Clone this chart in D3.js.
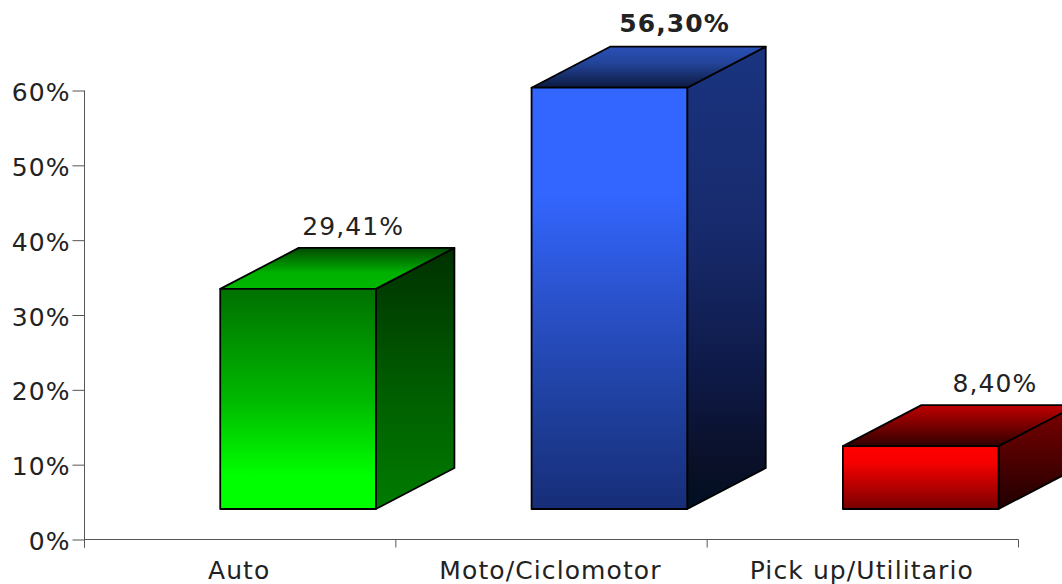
<!DOCTYPE html>
<html><head><meta charset="utf-8">
<script src="https://cdn.jsdelivr.net/npm/d3@7/dist/d3.min.js"></script>
<style>html,body{margin:0;padding:0;background:#fff;overflow:hidden}svg{display:block}
text{font-family:"DejaVu Sans",sans-serif;font-size:25px;letter-spacing:1.1px;fill:#222}</style></head>
<body><div id="c"></div>
<script>
const categories = ["Auto","Moto/Ciclomotor","Pick up/Utilitario"];
const values = [29.41,56.30,8.40];
const valueLabels = ["29,41%","56,30%","8,40%"];
const boldLabel = [false,true,false];
const yTicks = [0,10,20,30,40,50,60];
const frontGrad = [[["0","#007000"],["0.5","#00b800"],["0.85","#00ff00"],["1","#00ff00"]],
                   [["0","#3366ff"],["0.25","#3366ff"],["0.5","#2a52cc"],["0.75","#1f409f"],["1","#172e78"]],
                   [["0","#ff0000"],["0.25","#f80000"],["1","#780000"]]];
const sideGrad = [[["0","#003000"],["0.5","#005a00"],["1","#007c00"]],
                  [["0","#1a3480"],["0.4","#172a6c"],["0.7","#0e1a48"],["0.9","#0a1028"],["1","#000f20"]],
                  [["0","#7c0000"],["1","#200000"]]];
const topGrad = [[["0","#004a00"],["0.6","#00b000"],["1","#00b800"]],
                 [["0","#2a50b8"],["0.4","#234499"],["1","#0c1a40"]],
                 [["0","#c00000"],["1","#300000"]]];
const labelShift = [133,143,152];
const labelRaise = [13,15,13];

const W=1062,H=584, axisX=84.5, axisY=539.5;
const svg=d3.select("#c").append("svg").attr("width",W).attr("height",H);
const x=d3.scaleBand().domain(categories).range([axisX,1018.5]);
const y=d3.scaleLinear().domain([0,60]).range([axisY,90.5]);
const depthX=78.5, depthY=41, lift=30.5, barW=x.bandwidth()*0.5, barOff=x.bandwidth()*0.436;

const defs=svg.append("defs");
function grad(id,stops){
  const g=defs.append("linearGradient").attr("id",id).attr("x1",0).attr("y1",0).attr("x2",0).attr("y2",1);
  stops.forEach(s=>g.append("stop").attr("offset",s[0]).attr("stop-color",s[1]));
}
categories.forEach((c,i)=>{
  grad("f"+i,frontGrad[i]);
  grad("s"+i,sideGrad[i]);
  grad("t"+i,topGrad[i]);
});

// axes
const yAxis=d3.axisLeft(y).tickValues(yTicks).tickSize(12).tickPadding(2).tickFormat(d=>d+"%");
const gy=svg.append("g").attr("transform",`translate(${axisX},0)`).call(yAxis);
gy.select(".domain").attr("d",`M0,${y(60)}V${axisY+8}`);
const xAxis=d3.axisBottom(x).tickValues([]).tickSize(0);
const gx=svg.append("g").attr("transform",`translate(0,${axisY})`).call(xAxis);
gx.select(".domain").attr("d",`M${axisX},0H${x.range()[1]}`);
const boundaries=categories.map(c=>x(c)+x.bandwidth());
gx.selectAll("line.b").data([axisX,...boundaries]).join("line").attr("class","b")
  .attr("x1",d=>d).attr("x2",d=>d).attr("y1",0).attr("y2",8);
svg.selectAll("g .domain, g .tick line, line.b").attr("stroke","#555").attr("stroke-width",1);
gy.selectAll(".tick text").attr("dy","0.4em");
gx.selectAll("text.cat").data(categories).join("text").attr("class","cat")
  .attr("x",d=>x(d)+x.bandwidth()/2-1).attr("y",39).attr("text-anchor","middle").text(d=>d);

// bars
const bars=svg.selectAll("g.bar").data(values).join("g").attr("class","bar");
const stroke={stroke:"#000","stroke-width":1.8,"stroke-linejoin":"round"};
function poly(sel,pts,fill){
  const p=sel.append("path").attr("d",d3.line()(pts)+"Z").attr("fill",fill);
  Object.entries(stroke).forEach(([k,v])=>p.attr(k,v));
}
bars.each(function(v,i){
  const g=d3.select(this), x0=x(categories[i])+barOff, x1=x0+barW;
  const bot=axisY-lift, top=bot-(axisY-y(v));
  poly(g,[[x1,top],[x1+depthX,top-depthY],[x1+depthX,bot-depthY],[x1,bot]],`url(#s${i})`);
  poly(g,[[x0,top],[x0+depthX,top-depthY],[x1+depthX,top-depthY],[x1,top]],`url(#t${i})`);
  poly(g,[[x0,top],[x1,top],[x1,bot],[x0,bot]],`url(#f${i})`);
  g.append("text").attr("x",x0+labelShift[i]).attr("y",top-depthY-labelRaise[i]).attr("text-anchor","middle")
    .style("font-weight",boldLabel[i]?"bold":null).text(valueLabels[i]);
});
</script></body></html>
